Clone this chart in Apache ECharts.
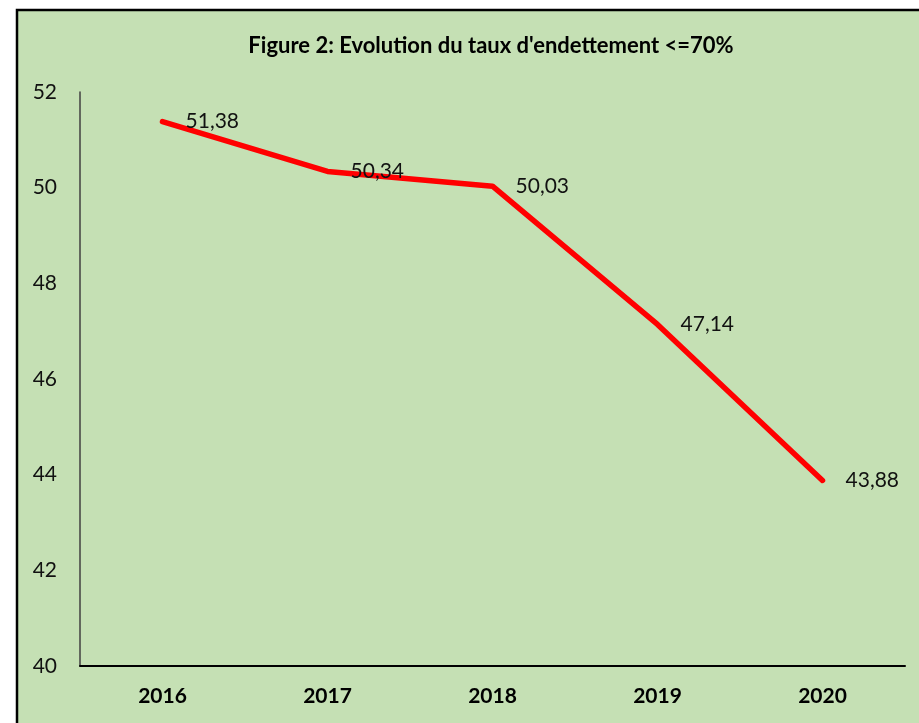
<!DOCTYPE html>
<html>
<head>
<meta charset="utf-8">
<script src="https://cdn.jsdelivr.net/npm/echarts@6/dist/echarts.min.js"></script>
<style>
  html, body { margin: 0; padding: 0; background: #fff; }
  #chart { width: 919px; height: 723px; }
</style>
</head>
<body>
<div id="chart"></div>
<script>
// données
const years = ["2016", "2017", "2018", "2019", "2020"];
const tauxEndettement = [51.38, 50.34, 50.03, 47.14, 43.88];
const titre = "Figure 2: Evolution du taux d'endettement <=70%";

const FONT = "Lato";

const chart = echarts.init(document.getElementById("chart"));

chart.setOption({
  backgroundColor: "#ffffff",
  animation: false,
  graphic: [
    {
      type: "rect",
      z: -10,
      shape: { x: 17, y: 10, width: 940, height: 740 },
      style: { fill: "#C5E0B4", stroke: "#000", lineWidth: 2.5 }
    }
  ],
  title: {
    text: titre,
    left: 486,
    top: 30,
    textAlign: "center",
    textStyle: {
      fontFamily: FONT,
      fontSize: 22,
      fontWeight: "bold",
      color: "#000"
    }
  },
  grid: {
    left: 80,
    right: 14,
    top: 92,
    bottom: 57
  },
  xAxis: {
    type: "category",
    data: years,
    boundaryGap: true,
    axisLine: { lineStyle: { color: "#000", width: 2 } },
    axisTick: { show: false },
    axisLabel: {
      margin: 20,
      fontFamily: FONT,
      fontSize: 21,
      fontWeight: "bold",
      color: "#000"
    }
  },
  yAxis: {
    type: "value",
    min: 40,
    max: 52,
    interval: 2,
    axisLine: { show: true, lineStyle: { color: "#404040", width: 1.5 } },
    axisTick: { show: false },
    splitLine: { show: false },
    axisLabel: {
      margin: 23,
      fontFamily: FONT,
      fontSize: 21,
      color: "#111"
    }
  },
  series: [
    {
      type: "line",
      data: tauxEndettement,
      showSymbol: true,
      symbol: "circle",
      symbolSize: 0.1,
      itemStyle: { color: "#FF0000" },
      lineStyle: { color: "#FF0000", width: 5.5, cap: "round", join: "round" },
      label: {
        show: true,
        position: "right",
        distance: 23,
        fontFamily: FONT,
        fontSize: 21,
        color: "#111",
        formatter: (p) => p.value.toFixed(2).replace(".", ",")
      }
    }
  ]
});
</script>
</body>
</html>
